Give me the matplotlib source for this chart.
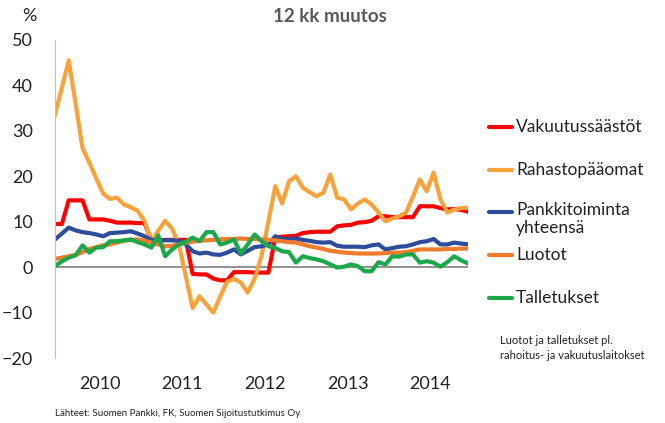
import matplotlib.pyplot as plt
from matplotlib.lines import Line2D

# monthly 12 month change, Dec 2009 .. Dec 2014
vakuutus = [9.5, 9.5, 14.7, 14.7, 14.7, 10.5, 10.5, 10.5, 10.2, 9.8, 9.8, 9.8, 9.7, 9.7,
            5.9, 5.9, 6.0, 6.0, 6.0, 6.0, -1.5, -1.6, -1.6, -2.5, -2.9, -2.9, -1.1, -1.1,
            -1.1, -1.2, -1.2, -1.2, 6.5, 6.7, 6.8, 6.9, 7.5, 7.7, 7.8, 7.8, 7.8, 9.0, 9.2,
            9.3, 9.8, 9.9, 10.2, 11.2, 11.2, 11.0, 11.0, 11.0, 11.0, 13.4, 13.4, 13.4, 13.0,
            12.7, 12.8, 12.6, 12.2]
rahasto = [33.5, 39.5, 45.5, 36.0, 26.2, 23.0, 19.5, 16.2, 15.0, 15.3, 13.8, 13.2, 12.4,
           10.2, 5.6, 8.0, 10.2, 8.5, 5.0, -2.0, -9.0, -6.4, -8.2, -10.0, -6.5, -3.2, -2.6,
           -3.4, -5.6, -2.5, 2.4, 10.0, 17.8, 14.0, 18.9, 20.0, 17.5, 16.5, 15.6, 16.4, 20.4,
           15.3, 14.9, 12.7, 14.0, 14.9, 13.8, 12.0, 10.1, 10.7, 11.2, 12.0, 15.5, 19.3, 16.7,
           20.8, 14.9, 12.0, 12.7, 13.0, 13.1]
pankki = [6.1, 7.4, 8.7, 8.1, 7.7, 7.5, 7.2, 6.8, 7.5, 7.6, 7.7, 7.9, 7.4, 6.8, 6.0, 5.9,
          5.9, 5.9, 5.8, 5.0, 3.5, 3.0, 3.2, 2.8, 2.7, 3.2, 3.9, 2.8, 3.6, 4.4, 4.6, 5.0, 6.8,
          6.2, 6.2, 6.3, 6.0, 5.8, 5.5, 5.4, 5.5, 4.7, 4.5, 4.5, 4.5, 4.4, 4.8, 5.0, 3.9, 4.2,
          4.5, 4.6, 5.0, 5.5, 5.7, 6.2, 5.0, 5.0, 5.4, 5.2, 5.0]
luotot = [1.8, 2.1, 2.4, 2.7, 3.3, 4.0, 4.4, 4.8, 5.0, 5.4, 5.8, 6.0, 6.1, 5.8, 5.4, 5.0,
          4.6, 4.7, 5.0, 5.4, 5.6, 5.8, 5.9, 6.0, 6.1, 6.2, 6.2, 6.3, 6.2, 6.2, 6.1, 6.0, 5.9,
          5.7, 5.5, 5.4, 5.0, 4.6, 4.3, 4.0, 3.6, 3.4, 3.2, 3.1, 3.0, 3.0, 3.0, 3.0, 3.1, 3.2,
          3.2, 3.3, 3.6, 3.9, 3.9, 3.9, 3.9, 4.0, 4.0, 4.1, 4.1]
talletus = [0.2, 1.3, 2.1, 2.6, 4.8, 3.2, 4.3, 4.4, 5.7, 5.7, 5.9, 6.1, 5.5, 5.0, 4.3, 7.0,
            2.4, 3.9, 5.0, 5.6, 6.5, 5.7, 7.7, 7.7, 5.0, 5.4, 6.1, 3.0, 5.0, 7.2, 5.7, 4.6,
            4.2, 3.5, 3.3, 1.0, 2.4, 2.0, 1.7, 1.3, 0.6, -0.1, 0.1, 0.6, 0.2, -0.9, -0.9, 1.1,
            0.6, 2.4, 2.3, 2.8, 2.8, 1.0, 1.3, 1.0, 0.1, 1.1, 2.4, 1.5, 0.8]

years = ['2010', '2011', '2012', '2013', '2014']
series = [
    ('Vakuutussäästöt', vakuutus, '#ff0000'),
    ('Rahastopääomat', rahasto, '#f7a23a'),
    ('Pankkitoiminta\nyhteensä', pankki, '#2e4c9c'),
    ('Luotot', luotot, '#ef7b2c'),
    ('Talletukset', talletus, '#1ca84a'),
]

plt.rcParams['font.family'] = ['Lato', 'DejaVu Sans']

fig = plt.figure(figsize=(6.65, 4.23), dpi=100)
ax = fig.add_axes([55 / 665, 1 - 358 / 423, 413 / 665, 318 / 423])

x = list(range(len(vakuutus)))
ax.axhline(0, color='#7f7f7f', lw=1.2, zorder=1)
for name, vals, col in series:
    ax.plot(x, vals, color=col, lw=3, solid_joinstyle='round', zorder=2)

ax.set_xlim(0, len(x) - 1)
ax.set_ylim(-20, 50)
ax.set_yticks(range(-20, 51, 10))
ax.set_xticks([6.5 + 12 * k for k in range(len(years))])
ax.set_xticklabels(years)
ax.tick_params(axis='both', length=0, labelsize=13, colors='#222222')
ax.tick_params(axis='y', pad=16)
ax.tick_params(axis='x', pad=13)
for s in ['top', 'right', 'bottom']:
    ax.spines[s].set_visible(False)
ax.spines['left'].set_color('#bfbfbf')

fig.text(22 / 665, 1 - 16 / 423, '%', fontsize=13, color='#222222', va='center')
fig.text(330 / 665, 1 - 16 / 423, '12 kk muutos', fontsize=13.5, fontweight='bold',
         color='#595959', ha='center', va='center')

# legend drawn by hand to get the uneven spacing
leg_y = [127, 170, 212, 255, 298]
for (name, vals, col), yy in zip(series, leg_y):
    fy = 1 - yy / 423
    fig.add_artist(Line2D([489 / 665, 512 / 665], [fy, fy], color=col, lw=3,
                          solid_capstyle='round'))
    if '\n' in name:
        fig.text(516 / 665, fy + 10 / 423, name, fontsize=12.5, color='#222222',
                 va='top', linespacing=1.15)
    else:
        fig.text(516 / 665, fy, name, fontsize=12.5, color='#222222', va='center')

fig.text(500 / 665, 1 - 348 / 423, 'Luotot ja talletukset pl.\nrahoitus- ja vakuutuslaitokset',
         fontsize=8, color='#222222', va='center', linespacing=1.5)
fig.text(55 / 665, 1 - 413 / 423, 'Lähteet: Suomen Pankki, FK, Suomen Sijoitustutkimus Oy',
         fontsize=7, color='#222222', va='center')

fig.savefig('out.png', dpi=100)
